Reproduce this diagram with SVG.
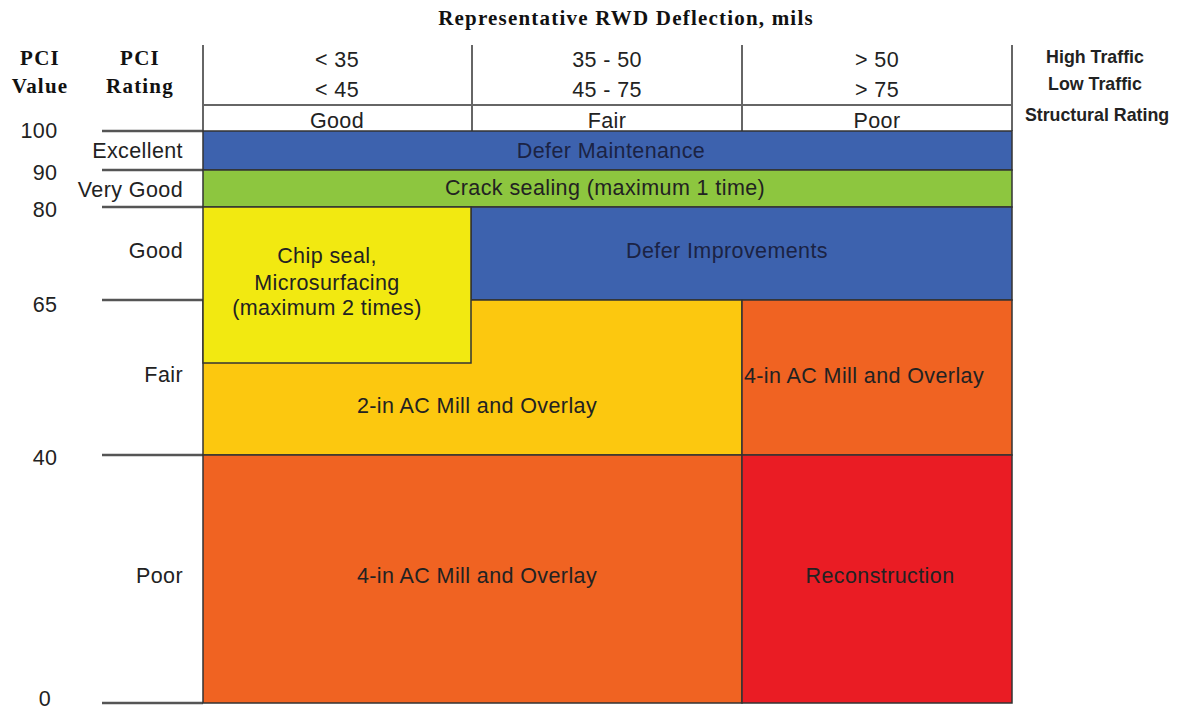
<svg xmlns="http://www.w3.org/2000/svg" width="1178" height="712" viewBox="0 0 1178 712">
<style>
.s{font-family:"Liberation Sans",Arial,sans-serif;font-size:21.5px;letter-spacing:0.4px;fill:#222}
.m{text-anchor:middle}
.e{text-anchor:end}
.hb{font-family:"Liberation Serif","Times New Roman",serif;font-size:21px;letter-spacing:1.2px;font-weight:bold;fill:#111;text-anchor:middle}
.rb{font-family:"Liberation Sans",Arial,sans-serif;font-size:17.8px;font-weight:bold;fill:#222;text-anchor:middle}
.blk{stroke:#333;stroke-width:1.5}
.nv{fill:#1b2344}
.tick{stroke:#555;stroke-width:2.5}
.hl{stroke:#666;stroke-width:2}
</style>
<rect width="1178" height="712" fill="#fff"/>
<g id="header">
<text class="hb" x="626" y="25">Representative RWD Deflection, mils</text>
<text class="hb" x="40" y="65">PCI</text>
<text class="hb" x="40" y="93">Value</text>
<text class="hb" x="140" y="65">PCI</text>
<text class="hb" x="140" y="93">Rating</text>
<text class="s m" x="337" y="67">&lt; 35</text>
<text class="s m" x="337" y="97">&lt; 45</text>
<text class="s m" x="607" y="67">35 - 50</text>
<text class="s m" x="607" y="97">45 - 75</text>
<text class="s m" x="877" y="67">&gt; 50</text>
<text class="s m" x="877" y="97">&gt; 75</text>
<text class="s m" x="337" y="128">Good</text>
<text class="s m" x="607" y="128">Fair</text>
<text class="s m" x="877" y="128">Poor</text>
<text class="rb" x="1095" y="63">High Traffic</text>
<text class="rb" x="1095" y="90">Low Traffic</text>
<text class="rb" x="1097" y="121">Structural Rating</text>
</g>
<g id="axis-labels">
<text class="s m" x="39" y="138">100</text>
<text class="s m" x="45" y="180">90</text>
<text class="s m" x="45" y="217">80</text>
<text class="s m" x="45" y="312">65</text>
<text class="s m" x="45" y="465">40</text>
<text class="s m" x="45" y="706">0</text>
<text class="s e" x="183" y="158">Excellent</text>
<text class="s e" x="183" y="197">Very Good</text>
<text class="s e" x="183" y="258">Good</text>
<text class="s e" x="183" y="382">Fair</text>
<text class="s e" x="183" y="583">Poor</text>
</g>
<g id="connectors">
<line class="hl" x1="203" y1="45" x2="203" y2="131"/>
<line class="hl" x1="472" y1="45" x2="472" y2="131"/>
<line class="hl" x1="742" y1="45" x2="742" y2="131"/>
<line class="hl" x1="1012" y1="45" x2="1012" y2="131"/>
<line class="hl" x1="203" y1="105" x2="1012" y2="105"/>
<line class="tick" x1="102" y1="131" x2="203" y2="131"/>
<line class="tick" x1="102" y1="170" x2="203" y2="170"/>
<line class="tick" x1="102" y1="207" x2="203" y2="207"/>
<line class="tick" x1="102" y1="300" x2="203" y2="300"/>
<line class="tick" x1="102" y1="455" x2="203" y2="455"/>
<line class="tick" x1="102" y1="703" x2="203" y2="703"/>
</g>
<g id="defer-maintenance">
<rect class="blk" x="203" y="131" width="809" height="39" fill="#3d62ae"/>
<text class="s m nv" x="611" y="158">Defer Maintenance</text>
</g>
<g id="crack-sealing">
<rect class="blk" x="203" y="170" width="809" height="37" fill="#8dc63f"/>
<text class="s m" x="605" y="195">Crack sealing (maximum 1 time)</text>
</g>
<g id="defer-improvements">
<rect class="blk" x="471" y="207" width="541" height="93" fill="#3d62ae"/>
<text class="s m nv" x="727" y="258">Defer Improvements</text>
</g>
<g id="mill-2in">
<path class="blk" d="M203 300H742V455H203Z" fill="#fcc80f"/>
<text class="s m" x="477" y="413">2-in AC Mill and Overlay</text>
</g>
<g id="chip-seal">
<rect class="blk" x="203" y="207" width="268" height="156" fill="#f2e911"/>
<text class="s m" x="327" y="263">Chip seal,</text>
<text class="s m" x="327" y="290">Microsurfacing</text>
<text class="s m" x="327" y="315">(maximum 2 times)</text>
</g>
<g id="mill-4in-fair">
<rect class="blk" x="742" y="300" width="270" height="155" fill="#f06322"/>
<text class="s m" x="864" y="383">4-in AC Mill and Overlay</text>
</g>
<g id="mill-4in-poor">
<rect class="blk" x="203" y="455" width="539" height="248" fill="#f06322"/>
<text class="s m" x="477" y="583">4-in AC Mill and Overlay</text>
</g>
<g id="reconstruction">
<rect class="blk" x="742" y="455" width="270" height="248" fill="#ea1c24"/>
<text class="s m" x="880" y="583">Reconstruction</text>
</g>
</svg>
